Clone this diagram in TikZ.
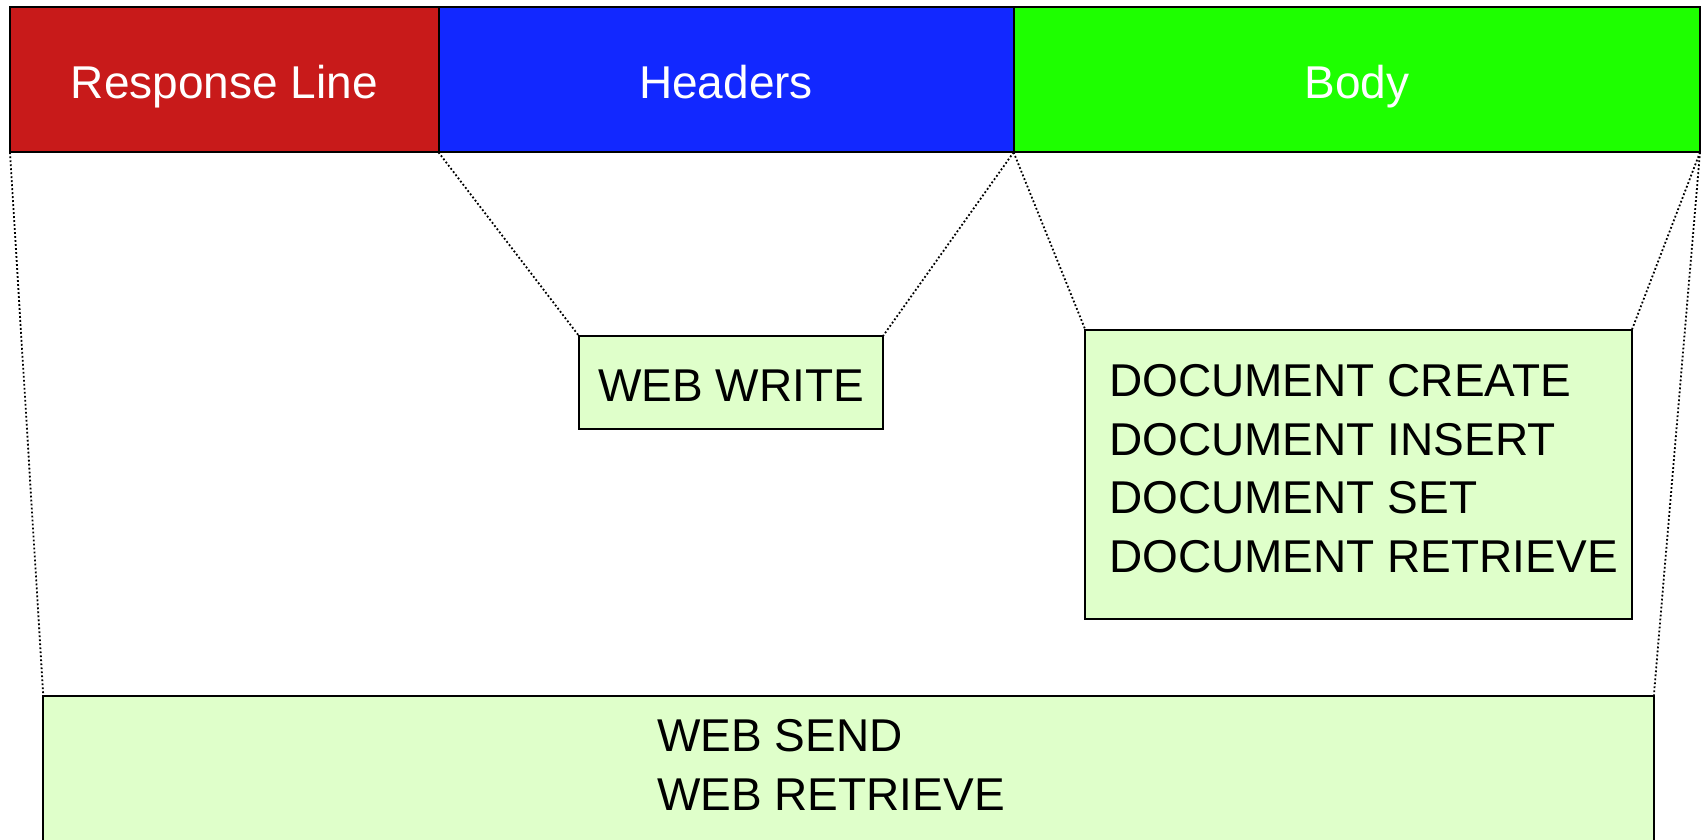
\documentclass[tikz,border=0pt]{standalone}
\usepackage{fontspec}
\setmainfont{Liberation Sans}

\definecolor{respred}{RGB}{200,26,26}
\definecolor{hdrblue}{RGB}{18,40,255}
\definecolor{bodygreen}{RGB}{30,255,0}
\definecolor{cmdfill}{RGB}{223,255,202}

\begin{document}
\begin{tikzpicture}[x=1pt,y=-1pt,
  bigfont/.style={font=\fontsize{46}{58.5}\selectfont},
  segment/.style={draw=black, line width=2pt, bigfont, text=white,
    inner sep=0pt, outer sep=0pt, anchor=north west,
    text height=37pt, text depth=0pt, minimum height=144.8pt},
  cmdbox/.style={draw=black, line width=2pt, fill=cmdfill,
    inner sep=0pt, outer sep=0pt, anchor=north west},
  cmdtext/.style={bigfont, text=black, inner sep=0pt, anchor=base west},
  zoomline/.style={draw=black, line width=1.8pt, dash pattern=on 1.8pt off 2.2pt}]

\useasboundingbox (0,0) rectangle (1703,840);
\fill[white] (0,0) rectangle (1703,840);

% message layout bar
\node[segment, fill=respred,   minimum width=428.5pt] (resp) at (10,7.5)     {Response Line};
\node[segment, fill=hdrblue,   minimum width=575.1pt] (hdr)  at (438.5,7.5)  {Headers};
\node[segment, fill=bodygreen, minimum width=686.4pt] (body) at (1013.6,7.5) {Body};

% command boxes
\node[cmdbox, minimum width=304pt, minimum height=93pt,
      bigfont, text height=37pt, text depth=0pt] (write) at (579,336) {WEB WRITE};
\node[cmdbox, minimum width=546.4pt, minimum height=289pt] (docs) at (1085.4,330) {};
\node[cmdtext] (docstext) at (1109,396.7)
  {\vtop{\hbox{DOCUMENT CREATE}\hbox{DOCUMENT INSERT}\hbox{DOCUMENT SET}\hbox{DOCUMENT RETRIEVE}}};
\node[cmdbox, minimum width=1610.5pt, minimum height=220pt] (send) at (43.3,696) {};
\node[cmdtext] (sendtext) at (657,751.7)
  {\vtop{\hbox{WEB SEND}\hbox{WEB RETRIEVE}}};

% projection lines
\draw[zoomline] (resp.south west) -- (send.north west);
\draw[zoomline] (resp.south east) -- (write.north west);
\draw[zoomline] (hdr.south east)  -- (write.north east);
\draw[zoomline] (hdr.south east)  -- (docs.north west);
\draw[zoomline] (body.south east) -- (docs.north east);
\draw[zoomline] (body.south east) -- (send.north east);
\end{tikzpicture}
\end{document}
